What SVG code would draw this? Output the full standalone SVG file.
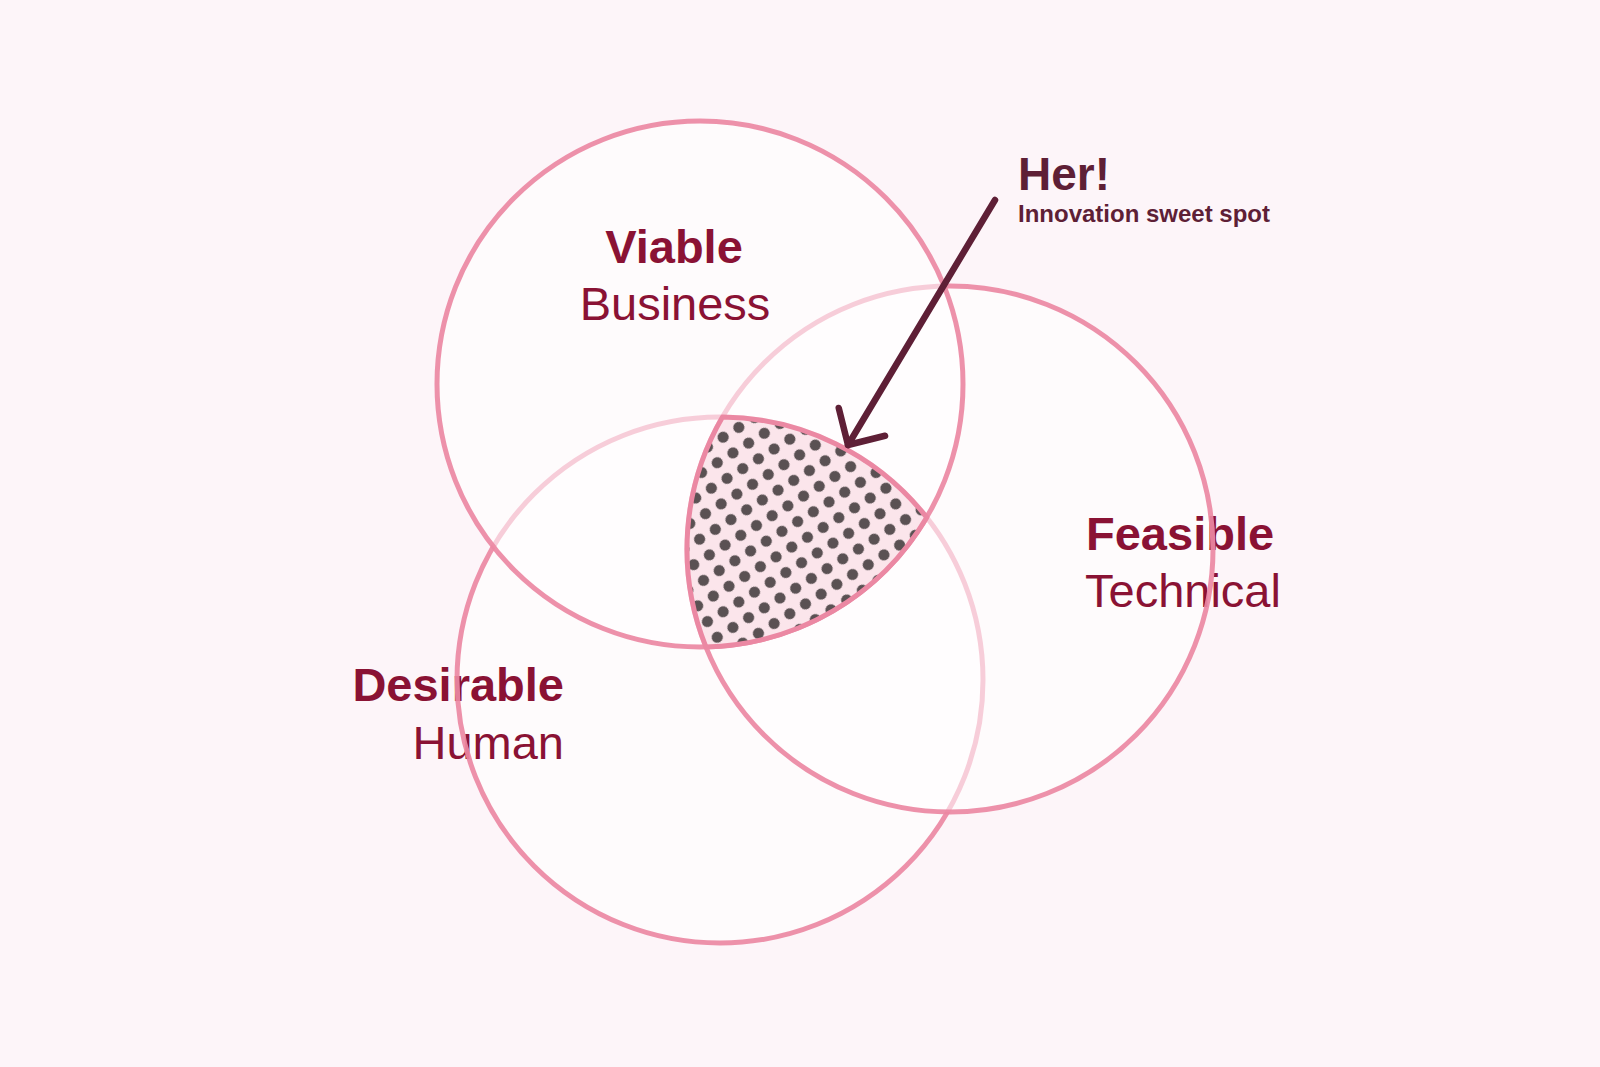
<svg xmlns="http://www.w3.org/2000/svg" width="1600" height="1067" viewBox="0 0 1600 1067">
  <style>
    .fill { fill: #ffffff; fill-opacity: 0.55; stroke: none; }
    .ring { fill: none; stroke: #eb88a3; stroke-opacity: 0.92; stroke-width: 5; }
    .lbl { font-family: "Liberation Sans", Arial, Helvetica, sans-serif; font-size: 47px; fill: #8a1234; }
    .b { font-weight: bold; }
    .ann { font-family: "Liberation Sans", Arial, Helvetica, sans-serif; font-weight: bold; fill: #5e1f36; }
  </style>
  <defs>
    <pattern id="dots" width="18.5" height="18.5" patternUnits="userSpaceOnUse" patternTransform="rotate(-32 722 417)">
      <rect width="18.5" height="18.5" fill="#fbe5eb"/>
      <circle cx="9.25" cy="9.25" r="5.6" fill="#5a5153"/>
    </pattern>
    <marker id="arrow" markerUnits="userSpaceOnUse" markerWidth="80" markerHeight="80" viewBox="-40 -40 80 80" refX="0" refY="0" orient="auto" overflow="visible">
      <path d="M-27,-27 L0,0 L-27,27" fill="none" stroke="#5e1f36" stroke-width="6.5" stroke-linecap="round" stroke-linejoin="round"/>
    </marker>
  </defs>

  <rect id="background" x="0" y="0" width="1600" height="1067" fill="#fdf5f9"/>

  <g id="desirable">
    <circle class="fill" cx="720" cy="680" r="263"/>
    <text class="lbl b" x="564" y="701" text-anchor="end">Desirable</text>
    <text class="lbl" x="564" y="759" text-anchor="end">Human</text>
    <circle class="ring" cx="720" cy="680" r="263"/>
  </g>

  <g id="feasible">
    <circle class="fill" cx="950" cy="549" r="263"/>
    <text class="lbl b" x="1086" y="550">Feasible</text>
    <text class="lbl" x="1085" y="607">Technical</text>
    <circle class="ring" cx="950" cy="549" r="263"/>
  </g>

  <g id="viable">
    <circle class="fill" cx="700" cy="384" r="263"/>
    <text class="lbl b" x="674" y="263" text-anchor="middle">Viable</text>
    <text class="lbl" x="675" y="320" text-anchor="middle">Business</text>
    <circle class="ring" cx="700" cy="384" r="263"/>
  </g>

  <g id="sweet-spot">
    <path d="M722.5,417 A263,263 0 0 1 926.7,517.4 A263,263 0 0 1 705.9,646.9 A263,263 0 0 1 722.5,417 Z" fill="url(#dots)" stroke="#eb88a3" stroke-width="5" stroke-linejoin="round"/>
  </g>

  <g id="connectors">
    <path d="M995,200 L848,445" fill="none" stroke="#5e1f36" stroke-width="6.5" stroke-linecap="round" marker-end="url(#arrow)"/>
  </g>

  <g id="annotation">
    <text class="ann" x="1018" y="190" font-size="46">Her!</text>
    <text class="ann" x="1018" y="222" font-size="24">Innovation sweet spot</text>
  </g>
</svg>
